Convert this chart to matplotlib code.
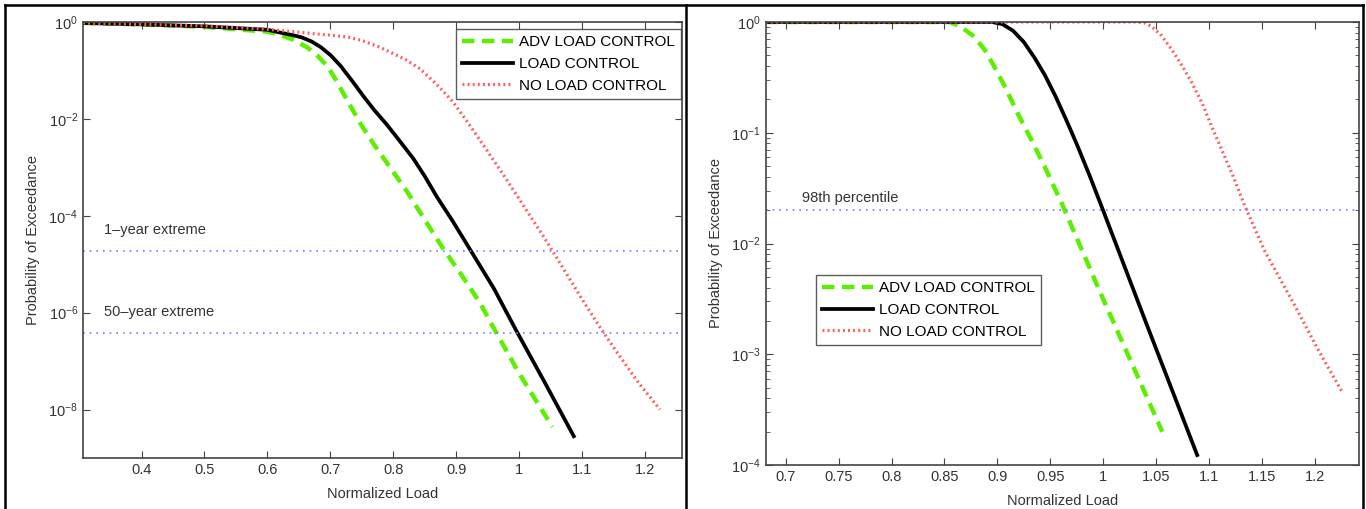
import numpy as np
import matplotlib
matplotlib.use("Agg")
import matplotlib.pyplot as plt
from matplotlib.lines import Line2D
from matplotlib.ticker import LogLocator, LogFormatterMathtext, NullLocator, NullFormatter

plt.rcParams["font.family"] = ["Liberation Sans", "DejaVu Sans"]
plt.rcParams["mathtext.fontset"] = "custom"
plt.rcParams["mathtext.rm"] = "Liberation Sans"
plt.rcParams["mathtext.it"] = "Liberation Sans:italic"
plt.rcParams["mathtext.bf"] = "Liberation Sans:bold"

# ---- left panel data (x = normalized load, y = -log10 of exceedance prob.)
adv_left_x = [0.307, 0.40, 0.50, 0.60, 0.621, 0.64, 0.664, 0.68, 0.696, 0.71,
              0.727, 0.748, 0.769, 0.795, 0.822, 0.85, 0.879, 0.91, 0.938,
              0.959, 1.00, 1.053]
adv_left_nlog = [0.02, 0.05, 0.10, 0.20, 0.27, 0.36, 0.53, 0.70, 0.92, 1.22,
                 1.62, 2.10, 2.52, 3.00, 3.50, 4.08, 4.67, 5.25, 5.80,
                 6.30, 7.25, 8.36]

lc_left_x = [0.307, 0.40, 0.50, 0.60, 0.621, 0.64, 0.655, 0.67, 0.685, 0.70,
             0.716, 0.735, 0.752, 0.77, 0.79, 0.81, 0.832, 0.85, 0.869, 0.895,
             0.92, 0.96, 0.996, 1.04, 1.087]
lc_left_nlog = [0.02, 0.05, 0.09, 0.16, 0.22, 0.27, 0.32, 0.40, 0.52, 0.68,
                0.90, 1.22, 1.52, 1.82, 2.12, 2.45, 2.82, 3.18, 3.60, 4.12,
                4.65, 5.50, 6.38, 7.42, 8.55]

nlc_left_x = [0.307, 0.40, 0.50, 0.60, 0.65, 0.68, 0.70, 0.727, 0.75, 0.775,
              0.795, 0.82, 0.843, 0.87, 0.895, 0.92, 0.949, 0.98, 1.01, 1.04,
              1.07, 1.10, 1.13, 1.16, 1.19, 1.224]
nlc_left_nlog = [0.02, 0.05, 0.08, 0.15, 0.21, 0.25, 0.27, 0.31, 0.38, 0.50,
                 0.62, 0.78, 0.97, 1.30, 1.65, 2.10, 2.65, 3.25, 3.85, 4.45,
                 5.08, 5.72, 6.33, 6.90, 7.45, 8.00]

one_year = 1.9e-5
fifty_year = 3.8e-7

# ---- right panel data
adv_right_x = [0.681, 0.80, 0.855, 0.865, 0.878, 0.888, 0.897, 0.908, 0.92,
               0.932, 0.946, 0.961, 1.00, 1.056]
adv_right_nlog = [0.0, 0.0, 0.0, 0.04, 0.13, 0.25, 0.40, 0.60, 0.84,
                  1.06, 1.33, 1.64, 2.50, 3.70]

lc_right_x = [0.681, 0.85, 0.895, 0.905, 0.915, 0.925, 0.935, 0.945, 0.955,
              0.965, 0.975, 0.987, 1.00, 1.04, 1.089]
lc_right_nlog = [0.0, 0.0, 0.0, 0.02, 0.08, 0.18, 0.32, 0.48, 0.67,
                 0.88, 1.10, 1.38, 1.70, 2.70, 3.91]

nlc_right_x = [0.681, 0.90, 1.00, 1.03, 1.04, 1.046, 1.055, 1.065, 1.075, 1.084,
               1.094, 1.103, 1.112, 1.122, 1.134, 1.153, 1.179, 1.204, 1.226]
nlc_right_nlog = [0.0, 0.0, 0.0, 0.0, 0.01, 0.04, 0.12, 0.25, 0.40, 0.55,
                  0.74, 0.95, 1.15, 1.37, 1.66, 2.07, 2.52, 2.97, 3.34]

pct98 = 0.02

labels = ["ADV LOAD CONTROL", "LOAD CONTROL", "NO LOAD CONTROL"]

green = "#5cf000"
red = "#ff5c5c"
blue = "#6e7dff"
axcol = "#444444"


def to_p(nlog):
    return 10.0 ** (-np.array(nlog))


def style_axes(ax, minor):
    for s in ax.spines.values():
        s.set_color(axcol)
        s.set_linewidth(1.2)
    ax.tick_params(which="both", direction="in", top=True, right=True,
                   colors=axcol, labelcolor="#333333", labelsize=10.5)
    ax.tick_params(which="major", length=5)
    ax.tick_params(which="minor", length=3)
    if not minor:
        ax.yaxis.set_minor_locator(NullLocator())
    ax.xaxis.set_minor_locator(NullLocator())
    ax.set_xlabel("Normalized Load", fontsize=10.5, color="#333333", labelpad=7)
    ax.set_ylabel("Probability of Exceedance", fontsize=10.5, color="#333333",
                  labelpad=6)


def draw_curves(ax, ax_x, ax_n, lc_x, lc_n, nl_x, nl_n):
    l1, = ax.semilogy(ax_x, to_p(ax_n), color=green, lw=3.2,
                      linestyle=(0, (2.8, 1.7)), label=labels[0])
    l2, = ax.semilogy(lc_x, to_p(lc_n), color="black", lw=2.7, label=labels[1])
    l3, = ax.semilogy(nl_x, to_p(nl_n), color=red, lw=2.3,
                      linestyle=(0, (0.6, 1.0)), label=labels[2])
    return [l1, l2, l3]


def add_legend(ax, handles, loc, anchor):
    leg = ax.legend(handles, labels, loc=loc, bbox_to_anchor=anchor,
                    bbox_transform=fig.transFigure, fontsize=11,
                    handlelength=3.3, labelspacing=0.5, borderaxespad=0,
                    fancybox=False, handletextpad=0.4, borderpad=0.42)
    leg.get_frame().set_edgecolor("#333333")
    leg.get_frame().set_linewidth(1.0)
    return leg


fig = plt.figure(figsize=(13.66, 5.09), dpi=100)

# left panel
ax1 = fig.add_axes([83 / 1366, 1 - 458 / 509, (682 - 83) / 1366, (458 - 22) / 509])
h = draw_curves(ax1, adv_left_x, adv_left_nlog, lc_left_x, lc_left_nlog,
                nlc_left_x, nlc_left_nlog)
ax1.axhline(one_year, color=blue, lw=1.2, linestyle=(0, (1, 3)))
ax1.axhline(fifty_year, color=blue, lw=1.2, linestyle=(0, (1, 3)))
ax1.text(0.34, one_year * 10 ** 0.28, "1\u2013year extreme", fontsize=10.5,
         color="#333333", va="bottom")
ax1.text(0.34, fifty_year * 10 ** 0.28, "50\u2013year extreme", fontsize=10.5,
         color="#333333", va="bottom")
ax1.set_xlim(0.307, 1.259)
ax1.set_ylim(1e-9, 1)
ax1.set_xticks([0.4, 0.5, 0.6, 0.7, 0.8, 0.9, 1.0, 1.1, 1.2])
ax1.set_xticklabels(["0.4", "0.5", "0.6", "0.7", "0.8", "0.9", "1", "1.1", "1.2"])
ax1.set_yticks([1e-8, 1e-6, 1e-4, 1e-2, 1.0])
ax1.yaxis.set_major_formatter(LogFormatterMathtext(base=10.0))
style_axes(ax1, minor=False)
add_legend(ax1, h, "upper right", (681 / 1366, 1 - 29 / 509))

# right panel
ax2 = fig.add_axes([765.7 / 1366, 1 - 465 / 509, (1359 - 765.7) / 1366, (465 - 22) / 509])
h2 = draw_curves(ax2, adv_right_x, adv_right_nlog, lc_right_x, lc_right_nlog,
                 nlc_right_x, nlc_right_nlog)
ax2.axhline(pct98, color=blue, lw=1.2, linestyle=(0, (1, 3)))
ax2.text(0.715, pct98 * 10 ** 0.05, "98th percentile", fontsize=10.5,
         color="#333333", va="bottom")
ax2.set_xlim(0.681, 1.242)
ax2.set_ylim(1e-4, 1)
ax2.set_xticks([0.7, 0.75, 0.8, 0.85, 0.9, 0.95, 1.0, 1.05, 1.1, 1.15, 1.2])
ax2.set_xticklabels(["0.7", "0.75", "0.8", "0.85", "0.9", "0.95", "1", "1.05",
                     "1.1", "1.15", "1.2"])
ax2.set_yticks([1e-4, 1e-3, 1e-2, 1e-1, 1.0])
ax2.yaxis.set_minor_locator(LogLocator(base=10.0, subs=np.arange(2, 10), numticks=10))
ax2.yaxis.set_minor_formatter(NullFormatter())
ax2.yaxis.set_major_formatter(LogFormatterMathtext(base=10.0))
style_axes(ax2, minor=True)
add_legend(ax2, h2, "upper left", (816 / 1366, 1 - 275 / 509))

# frame around the two panels
for xs, ys in [([5, 1363], [5, 5]), ([5, 5], [5, 508]), ([686, 686], [5, 508]),
               ([1363, 1363], [5, 508])]:
    fig.add_artist(Line2D([x / 1366 for x in xs], [1 - y / 509 for y in ys],
                          color="black", lw=1.8, transform=fig.transFigure))

fig.savefig("out.png", dpi=100)
